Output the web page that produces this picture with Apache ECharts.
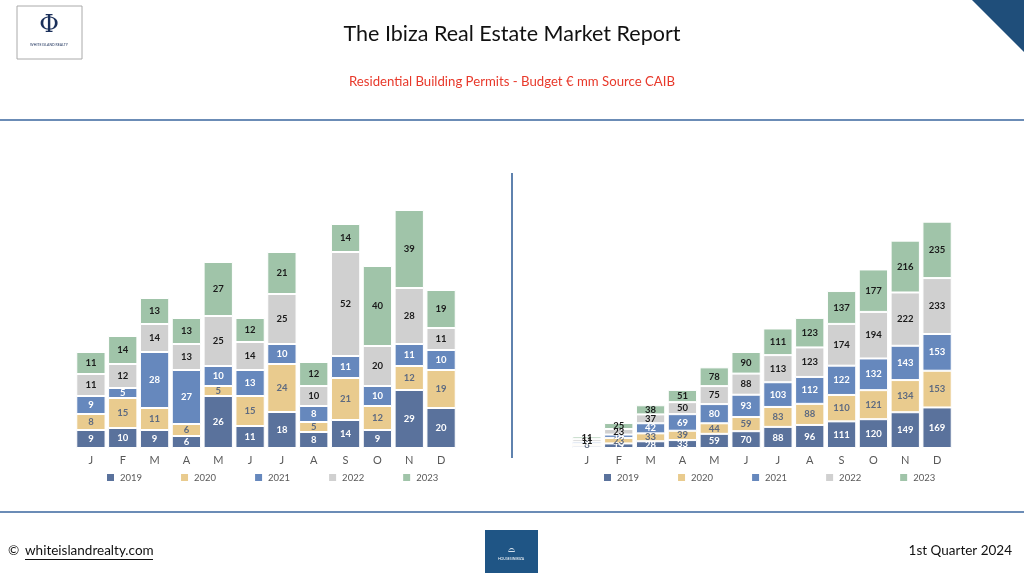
<!DOCTYPE html>
<html><head><meta charset="utf-8">
<script src="https://cdn.jsdelivr.net/npm/echarts@6/dist/echarts.min.js"></script>
<style>html,body{margin:0;padding:0;background:#fff}#c{width:1024px;height:576px}</style>
</head><body><div id="c"></div>
<script>
const months = ['J','F','M','A','M','J','J','A','S','O','N','D'];
const years = ['2019','2020','2021','2022','2023'];
// Monthly values (left chart)
const m2019 = [9,10,9,6,26,11,18,8,14,9,29,20];
const m2020 = [8,15,11,6,5,15,24,5,21,12,12,19];
const m2021 = [9,5,28,27,10,13,10,8,11,10,11,10];
const m2022 = [11,12,14,13,25,14,25,10,52,20,28,11];
const m2023 = [11,14,13,13,27,12,21,12,14,40,39,19];
// Cumulative values (right chart)
const c2019 = [9,19,28,33,59,70,88,96,111,120,149,169];
const c2020 = [8,23,33,39,44,59,83,88,110,121,134,153];
const c2021 = [9,14,42,69,80,93,103,112,122,132,143,153];
const c2022 = [11,23,37,50,75,88,113,123,174,194,222,233];
const c2023 = [11,25,38,51,78,90,111,123,137,177,216,235];

const colors = ['#5a729c','#e9cb8e','#6688bd','#d0d0d0','#a0c4a9'];
const labelColors = ['#ffffff','#5d6a80','#ffffff','#1a1a1a','#1a1a1a'];
const font = 'Lato, "Open Sans", sans-serif';

const chart = echarts.init(document.getElementById('c'));
const monthly = [m2019,m2020,m2021,m2022,m2023];
const cumul = [c2019,c2020,c2021,c2022,c2023];

function mk(arr, idx) {
  return arr.map((d,i)=>({
    name: years[i], type:'bar', stack:'s'+idx, xAxisIndex:idx, yAxisIndex:idx,
    data:d, barCategoryGap:'8%',
    itemStyle:{color:colors[i], borderColor:'#fff', borderWidth:1},
    label:{show:true, position:'inside', color:labelColors[i], fontSize:9.5, fontWeight:'bold', fontFamily:font},
    emphasis:{disabled:true}
  }));
}
function xa(i){return {type:'category', gridIndex:i, data:months, axisLine:{show:false}, axisTick:{show:false},
  axisLabel:{color:'#595959', fontSize:11, fontFamily:font, margin:7}};}
function ya(i,max){return {type:'value', gridIndex:i, min:0, max:max, show:false, splitLine:{show:false}};}

const legendBase = {itemWidth:9, itemHeight:9, itemGap:37, icon:'rect', textStyle:{color:'#595959', fontSize:9.5, fontFamily:font}};

chart.setOption({
  animation:false,
  textStyle:{fontFamily:font},
  grid:[{left:75, top:168, width:382, height:280},{left:571, top:208, width:382, height:240}],
  xAxis:[xa(0),xa(1)],
  yAxis:[ya(0,140),ya(1,1000)],
  legend:[
    Object.assign({}, legendBase, {left:100, top:467, data:years}),
    Object.assign({}, legendBase, {left:597, top:467, data:years})
  ],
  series:[...mk(monthly,0), ...mk(cumul,1)],
  graphic:[
    {type:'text', left:'center', top:23, style:{text:'The Ibiza Real Estate Market Report', fontSize:21.5, fontFamily:font, fill:'#111'}},
    {type:'text', left:'center', top:75, style:{text:'Residential Building Permits - Budget € mm Source CAIB', fontSize:13.2, fontFamily:font, fill:'#e8392b'}},
    {type:'rect', shape:{x:0,y:119,width:1024,height:2}, style:{fill:'#6b8cb6'}},
    {type:'rect', shape:{x:0,y:511,width:1024,height:2}, style:{fill:'#6b8cb6'}},
    {type:'rect', shape:{x:511,y:173,width:2,height:285}, style:{fill:'#5f82ae'}},
    {type:'polygon', shape:{points:[[972,0],[1024,0],[1024,52]]}, style:{fill:'#1f4e7a'}},
    // top-left logo
    {type:'rect', shape:{x:17,y:6,width:65,height:53}, style:{fill:'#fff', stroke:'#aaa', lineWidth:1}},
    {type:'text', x:49, y:14, style:{text:'Φ', fontSize:24, fontFamily:'DejaVu Serif, serif', fill:'#1a2f5a', align:'center'}},
    {type:'text', x:49, y:43, style:{text:'WHITE ISLAND REALTY', fontSize:3.5, fontFamily:font, fill:'#1a2f5a', align:'center'}},
    // footer
    {type:'text', left:8, top:544, style:{text:'© ', fontSize:13.5, fontFamily:font, fill:'#111'}},
    {type:'text', left:25, top:544, style:{text:'whiteislandrealty.com', fontSize:13.5, fontFamily:font, fill:'#111'}},
    {type:'rect', shape:{x:25,y:559,width:128,height:1}, style:{fill:'#111'}},
    {type:'text', right:12, top:544, style:{text:'1st Quarter 2024', fontSize:13.5, fontFamily:font, fill:'#111'}},
    {type:'rect', shape:{x:485,y:530,width:53,height:43}, style:{fill:'#1f5585'}},
    {type:'text', x:511, y:545, style:{text:'⌓', fontSize:9, fill:'#d6e2ee', align:'center'}},
    {type:'text', x:511, y:557, style:{text:'HOUSESINIBIZA', fontSize:3.5, fontFamily:font, fill:'#ffffff', align:'center'}}
  ]
});
</script></body></html>
